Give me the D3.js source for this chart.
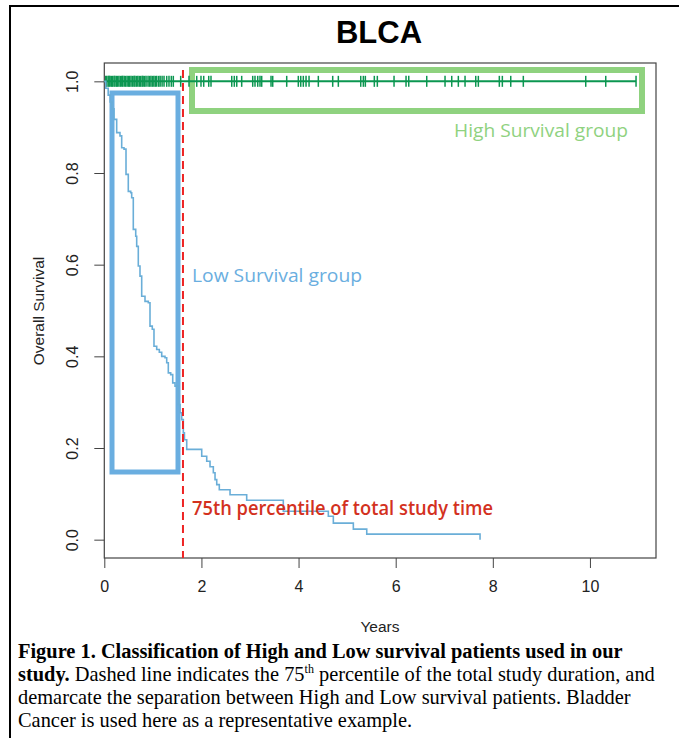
<!DOCTYPE html>
<html>
<head>
<meta charset="utf-8">
<script src="https://cdn.jsdelivr.net/npm/d3@7"></script>
<style>
  body { margin: 0; background: #fff; }
  svg { display: block; }
</style>
</head>
<body>
<script>
// low survival group: Kaplan-Meier steps (years, survival after step)
var lowTimes = [0, 0.03, 0.08, 0.12, 0.16, 0.20, 0.255, 0.323, 0.358, 0.406, 0.447, 0.494, 0.544, 0.564,
  0.597, 0.647, 0.667, 0.700, 0.735, 0.770, 0.838, 0.906, 0.941, 0.988, 1.023, 1.079, 1.133, 1.182,
  1.250, 1.285, 1.318, 1.367, 1.409, 1.456, 1.524, 1.559, 1.594, 1.627, 1.650, 1.697, 2.006, 2.109,
  2.177, 2.245, 2.280, 2.315, 2.368, 2.589, 2.932, 3.686, 4.613, 4.716, 5.128, 5.404, 7.737];
var lowSurv = [1.0, 0.985, 0.97, 0.955, 0.94, 0.917, 0.888, 0.881, 0.855, 0.852, 0.797, 0.760, 0.757, 0.746,
  0.677, 0.662, 0.640, 0.597, 0.575, 0.531, 0.520, 0.517, 0.466, 0.459, 0.422, 0.415, 0.409, 0.400,
  0.397, 0.386, 0.364, 0.360, 0.342, 0.335, 0.295, 0.277, 0.262, 0.233, 0.218, 0.197, 0.182, 0.171,
  0.159, 0.146, 0.131, 0.120, 0.109, 0.098, 0.086, 0.062, 0.051, 0.036, 0.023, 0.012, 0.0];

// high survival group: censored times (all at survival 1.0)
var highEnd = 10.95;
var highCensor = [0.03, 0.05, 0.08, 0.10, 0.12, 0.15, 0.17, 0.20, 0.22, 0.25, 0.27, 0.30, 0.33, 0.36,
  0.38, 0.41, 0.44, 0.47, 0.50, 0.52, 0.55, 0.58, 0.61, 0.63, 0.66, 0.69, 0.72, 0.75, 0.78, 0.80,
  0.83, 0.86, 0.90, 0.93, 0.96, 0.99, 1.02, 1.05, 1.08, 1.12, 1.15, 1.19, 1.23,
  1.285, 1.332, 1.380, 1.421, 1.573, 1.744, 1.903, 1.991, 2.047, 2.150, 2.197, 2.624, 2.677, 2.727,
  2.829, 3.056, 3.103, 3.159, 3.206, 3.241, 3.433, 3.468, 3.756, 3.995, 4.045, 4.098, 4.154, 4.216,
  4.407, 4.703, 4.819, 5.280, 5.334, 5.375, 5.560, 5.622, 5.966, 6.213, 6.269, 6.639, 7.016, 7.154,
  7.290, 7.428, 7.648, 7.702, 8.134, 8.196, 8.369, 8.628, 9.913, 10.325, 10.949];

var cutoff = 1.62; // 75th percentile of study time
var xTicks = [0, 2, 4, 6, 8, 10];
var yTicks = [0, 0.2, 0.4, 0.6, 0.8, 1.0];

var width = 679, height = 738;
var svg = d3.select("body").append("svg")
  .attr("width", width)
  .attr("height", height);

// outer frame of the figure
svg.append("rect")
  .attr("x", 10).attr("y", 6)
  .attr("width", 700).attr("height", 760)
  .attr("fill", "none").attr("stroke", "#000").attr("stroke-width", 2);

var x = d3.scaleLinear().domain([0, 11.36]).range([104.3, 656]);
var y = d3.scaleLinear().domain([-0.04, 1.04]).range([558, 63]);

var axisFont = "'Liberation Sans', Arial, sans-serif";

svg.append("text")
  .attr("x", 379).attr("y", 43)
  .attr("text-anchor", "middle")
  .style("font-family", axisFont)
  .style("font-weight", "bold")
  .style("font-size", "31px")
  .text("BLCA");

// annotation boxes
svg.append("rect")
  .attr("x", 112).attr("y", 93)
  .attr("width", 66).attr("height", 379)
  .attr("fill", "none").attr("stroke", "#6aaee0").attr("stroke-width", 5);

svg.append("rect")
  .attr("x", 192).attr("y", 70)
  .attr("width", 450).attr("height", 41)
  .attr("fill", "none").attr("stroke", "#8fd27f").attr("stroke-width", 6);

// axes
var xAxis = svg.append("g")
  .attr("transform", "translate(0,558)")
  .call(d3.axisBottom(x).tickValues(xTicks).tickSize(10).tickSizeOuter(0).tickPadding(13));
xAxis.selectAll("text")
  .style("font-family", axisFont).style("font-size", "16px").attr("fill", "#222");

var yAxis = svg.append("g")
  .attr("transform", "translate(104.3,0)")
  .call(d3.axisLeft(y).tickValues(yTicks).tickSize(10).tickSizeOuter(0).tickFormat(d3.format(".1f")));
yAxis.selectAll("text")
  .attr("x", 0).attr("dy", 0)
  .attr("text-anchor", "middle")
  .attr("transform", "translate(-26.5,0) rotate(-90)")
  .style("font-family", axisFont).style("font-size", "16px").attr("fill", "#222");

svg.selectAll(".domain").remove();
svg.selectAll(".tick line").attr("stroke", "#444");

// plot box
svg.append("rect")
  .attr("x", x.range()[0]).attr("y", y.range()[1])
  .attr("width", x.range()[1] - x.range()[0])
  .attr("height", y.range()[0] - y.range()[1])
  .attr("fill", "none").attr("stroke", "#444").attr("stroke-width", 1.2);

svg.append("text")
  .attr("x", 380).attr("y", 632)
  .attr("text-anchor", "middle")
  .style("font-family", axisFont).style("font-size", "15.5px").attr("fill", "#222")
  .text("Years");

svg.append("text")
  .attr("transform", "translate(43.5,311) rotate(-90)")
  .attr("text-anchor", "middle")
  .style("font-family", axisFont).style("font-size", "15.5px").attr("fill", "#222")
  .text("Overall Survival");

// high survival line and censor marks
svg.append("line")
  .attr("x1", x(0)).attr("x2", x(highEnd))
  .attr("y1", y(1)).attr("y2", y(1))
  .attr("stroke", "#0b9650").attr("stroke-width", 2);

svg.append("g").selectAll("line")
  .data(highCensor)
  .enter()
  .append("line")
  .attr("x1", function(d) { return x(d); })
  .attr("x2", function(d) { return x(d); })
  .attr("y1", y(1) - 5.5)
  .attr("y2", y(1) + 5.5)
  .attr("stroke", "#0b9650").attr("stroke-width", 1.5);

// low survival curve
var lowData = lowTimes.map(function(t, i) { return [t, lowSurv[i]]; });
var line = d3.line()
  .x(function(d) { return x(d[0]); })
  .y(function(d) { return y(d[1]); })
  .curve(d3.curveStepAfter);

svg.append("path")
  .datum(lowData)
  .attr("d", line)
  .attr("fill", "none")
  .attr("stroke", "#6aaed8")
  .attr("stroke-width", 1.6);

// cutoff line
svg.append("line")
  .attr("x1", x(cutoff)).attr("x2", x(cutoff))
  .attr("y1", 70).attr("y2", 558)
  .attr("stroke", "#ee2424").attr("stroke-width", 2)
  .attr("stroke-dasharray", "8,5");

var annoFont = "'Open Sans', 'Noto Sans', sans-serif";

svg.append("text")
  .attr("x", 454).attr("y", 137)
  .attr("textLength", 174).attr("lengthAdjust", "spacingAndGlyphs")
  .style("font-family", annoFont).style("font-size", "18px").attr("fill", "#8fd27f")
  .text("High Survival group");

svg.append("text")
  .attr("x", 192).attr("y", 282)
  .attr("textLength", 170).attr("lengthAdjust", "spacingAndGlyphs")
  .style("font-family", annoFont).style("font-size", "18px").attr("fill", "#6aaee0")
  .text("Low Survival group");

svg.append("text")
  .attr("x", 192).attr("y", 515)
  .attr("textLength", 301).attr("lengthAdjust", "spacingAndGlyphs")
  .style("font-family", annoFont).style("font-size", "19px").style("font-weight", "600")
  .attr("fill", "#d3311e")
  .text("75th percentile of total study time");

// caption
var capFont = "'Liberation Serif', 'Times New Roman', serif";
var cap = svg.append("g")
  .style("font-family", capFont).style("font-size", "20.4px").attr("fill", "#000");

var t1 = cap.append("text").attr("x", 18).attr("y", 658);
t1.append("tspan").style("font-weight", "bold")
  .text("Figure 1. Classification of High and Low survival patients used in our");

var t2 = cap.append("text").attr("x", 18).attr("y", 681);
t2.append("tspan").style("font-weight", "bold").text("study.");
t2.append("tspan").text(" Dashed line indicates the 75");
t2.append("tspan").attr("dy", -8).style("font-size", "12px").text("th");
t2.append("tspan").attr("dy", 8).text(" percentile of the total study duration, and");

cap.append("text").attr("x", 18).attr("y", 704)
  .text("demarcate the separation between High and Low survival patients. Bladder");
cap.append("text").attr("x", 18).attr("y", 727)
  .text("Cancer is used here as a representative example.");
</script>
</body>
</html>
